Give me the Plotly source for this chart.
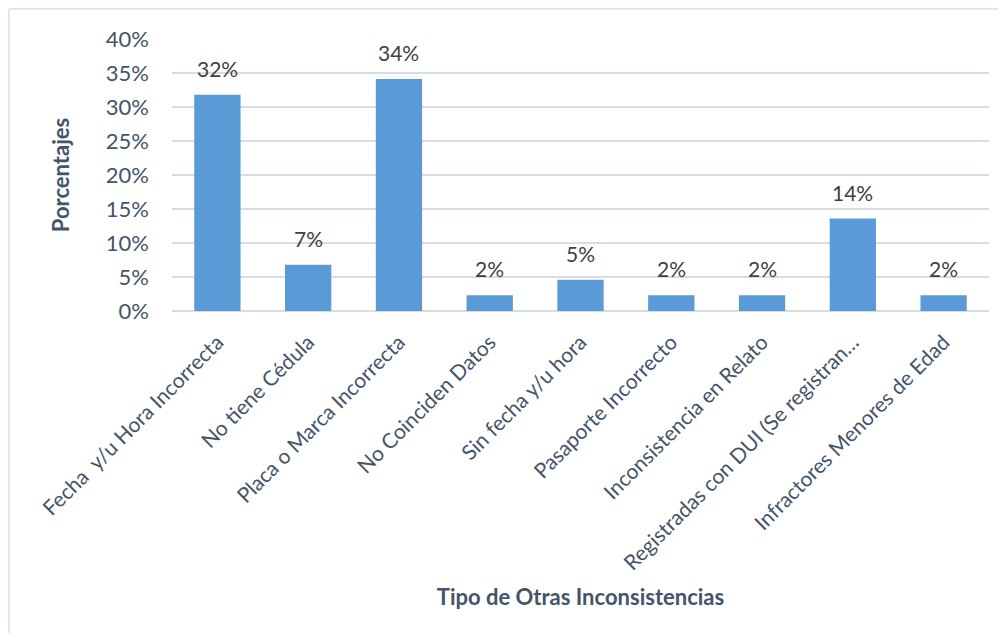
import plotly.graph_objects as go

categorias = [
    "Fecha \u00a0y/u Hora Incorrecta",
    "No tiene Cédula",
    "Placa o Marca Incorrecta",
    "No Coinciden Datos",
    "Sin fecha y/u hora",
    "Pasaporte Incorrecto",
    "Inconsistencia en Relato",
    "Registradas con DUI (Se registran…",
    "Infractores Menores de Edad",
]
porcentajes = [0.318, 0.068, 0.341, 0.023, 0.046, 0.023, 0.023, 0.136, 0.023]
ticks_y = [0, 0.05, 0.10, 0.15, 0.20, 0.25, 0.30, 0.35, 0.40]

# la pagina tiene 8px de margen en body
W, H = 990, 625
ML, MR, MT, MB = 164, 9, 31, 322
TXT = "#44546A"
FONT = "Lato, 'Open Sans', sans-serif"

fig = go.Figure(go.Bar(
    x=categorias,
    y=porcentajes,
    marker=dict(color="#5A9AD6", line=dict(width=0)),
    width=0.51,
    hoverinfo="x+y",
))

# etiquetas de valor un poco separadas de la barra
for c, v in zip(categorias, porcentajes):
    fig.add_annotation(x=c, y=v, text=f"{v:.0%}", showarrow=False,
                       yanchor="bottom", yshift=12,
                       font=dict(size=21, color="#404040", family=FONT))

# marco del grafico (solo se ven borde superior e izquierdo)
pw, ph = W - ML - MR, H - MT - MB
xl = (1 - ML) / pw
yt = (H - 1 - MT - MB) / ph + (MB - 0) / ph * 0  # borde superior
yt = (H - MB - 1) / ph
yb = -MB / ph
borde = dict(color="#D9DDE2", width=1.5)
fig.add_shape(type="line", xref="paper", yref="paper",
              x0=xl, x1=(W - ML) / pw, y0=yt, y1=yt, line=borde, layer="below")
fig.add_shape(type="line", xref="paper", yref="paper",
              x0=xl, x1=xl, y0=yb, y1=yt, line=borde, layer="below")

fig.update_layout(
    width=W, height=H,
    margin=dict(l=ML, r=MR, t=MT, b=MB, autoexpand=False),
    paper_bgcolor="white", plot_bgcolor="white",
    font=dict(family=FONT, color=TXT),
    showlegend=False,
    xaxis=dict(
        tickangle=-45,
        tickfont=dict(size=21, color=TXT),
        ticklabelstandoff=14,
        showgrid=False, showline=False, zeroline=False,
        title=dict(text="<b>Tipo de Otras Inconsistencias</b>",
                   font=dict(size=22, color=TXT), standoff=16),
    ),
    yaxis=dict(
        range=[0, 0.40],
        tickvals=ticks_y,
        tickformat=".0%",
        tickfont=dict(size=22, color=TXT),
        ticklabelstandoff=22,
        showgrid=True, gridcolor="#D9DDE2", gridwidth=1.5,
        zeroline=True, zerolinecolor="#D9DDE2", zerolinewidth=1.5,
        showline=False,
        title=dict(text="<b>Porcentajes</b>",
                   font=dict(size=22, color=TXT), standoff=30),
    ),
)

fig.write_html("out.html")
